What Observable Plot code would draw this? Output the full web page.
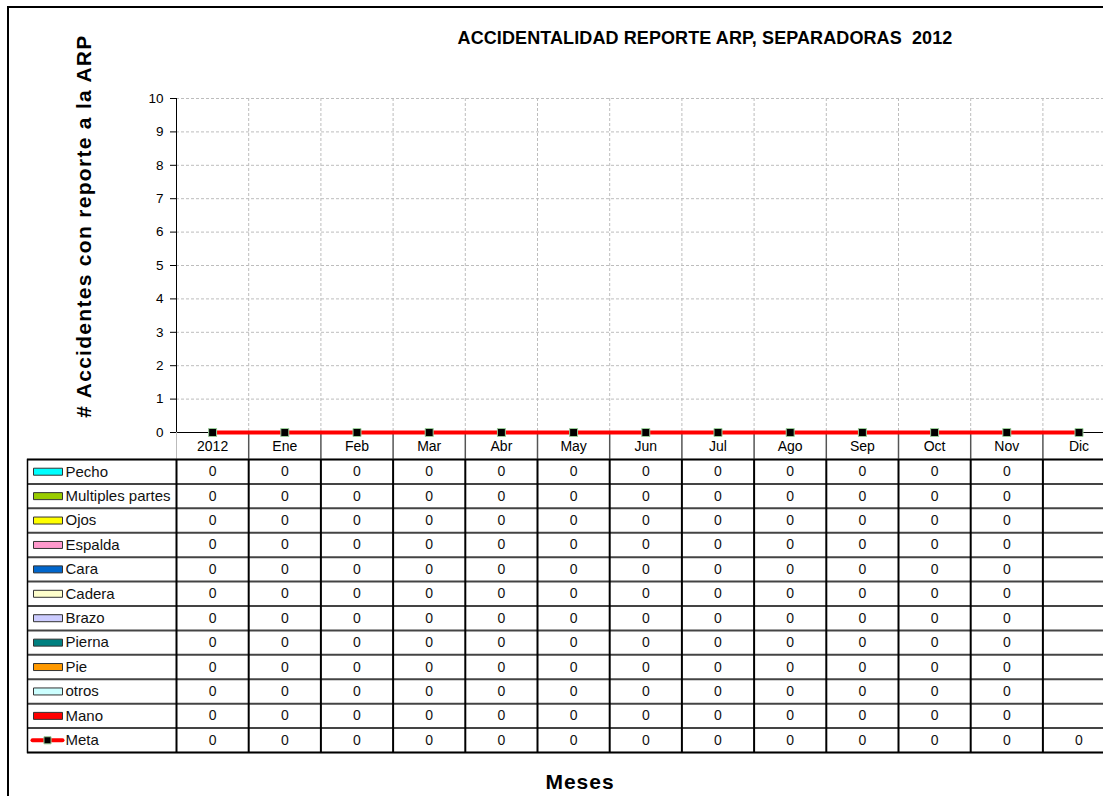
<!DOCTYPE html>
<html>
<head>
<meta charset="utf-8">
<script src="https://cdn.jsdelivr.net/npm/d3@7"></script>
<script src="https://cdn.jsdelivr.net/npm/@observablehq/plot@0.6"></script>
<style>
  html, body { margin: 0; padding: 0; background: #fff; overflow: hidden; }
  #wrap { position: relative; width: 1103px; height: 796px; overflow: hidden; background: #fff;
          font-family: Arial, "Liberation Sans", sans-serif; }
  #wrap svg { position: absolute; left: 0; top: 0; max-width: none !important; background: transparent !important; }
  #wrap svg g[aria-label="y-axis tick label"] { font-size: 13.5px; fill: #000; }
  #wrap svg g[aria-label="x-axis tick label"] { font-size: 14px; fill: #000; }
  .frame { position: absolute; left: 7px; top: 6px; width: 1200px; height: 900px;
           border-top: 2px solid #000; border-left: 2px solid #000; }
  .title { position: absolute; left: 705px; top: 38px; transform: translate(-50%, -50%);
           font-weight: bold; font-size: 18px; letter-spacing: 0.1px; white-space: pre; color: #000; }
  .ytitle { position: absolute; left: 84px; top: 226px; transform: translate(-50%, -50%) rotate(-90deg);
            font-weight: bold; font-size: 21px; letter-spacing: 1.3px; white-space: nowrap; color: #000; }
  .xtitle { position: absolute; left: 580px; top: 782px; transform: translate(-50%, -50%);
            font-weight: bold; font-size: 21px; letter-spacing: 1px; white-space: nowrap; color: #000; }
</style>
</head>
<body>
<div id="wrap">
  <div class="frame"></div>
</div>
<script>
// ---- data ----
const categories = ["2012","Ene","Feb","Mar","Abr","May","Jun","Jul","Ago","Sep","Oct","Nov","Dic"];
const partes = ["Pecho","Multiples partes","Ojos","Espalda","Cara","Cadera","Brazo","Pierna","Pie","otros","Mano"];
const colores = ["#00FFFF","#99CC00","#FFFF00","#FF99CC","#0066CC","#FFFFCC","#CCCCFF","#008080","#FF9900","#CCFFFF","#FF0000"];
const pecho     = [0,0,0,0,0,0,0,0,0,0,0,0,null];
const multiples = [0,0,0,0,0,0,0,0,0,0,0,0,null];
const ojos      = [0,0,0,0,0,0,0,0,0,0,0,0,null];
const espalda   = [0,0,0,0,0,0,0,0,0,0,0,0,null];
const cara      = [0,0,0,0,0,0,0,0,0,0,0,0,null];
const cadera    = [0,0,0,0,0,0,0,0,0,0,0,0,null];
const brazo     = [0,0,0,0,0,0,0,0,0,0,0,0,null];
const pierna    = [0,0,0,0,0,0,0,0,0,0,0,0,null];
const pie       = [0,0,0,0,0,0,0,0,0,0,0,0,null];
const otros     = [0,0,0,0,0,0,0,0,0,0,0,0,null];
const mano      = [0,0,0,0,0,0,0,0,0,0,0,0,null];
const meta      = [0,0,0,0,0,0,0,0,0,0,0,0,0];
const yTicks = [0,1,2,3,4,5,6,7,8,9,10];
const titulo = "ACCIDENTALIDAD REPORTE ARP, SEPARADORAS  2012";
const tituloY = "# Accidentes con reporte a la ARP";
const tituloX = "Meses";

// ---- derived tables ----
const seriesValues = [pecho, multiples, ojos, espalda, cara, cadera, brazo, pierna, pie, otros, mano];
const rowNames = [...partes, "Meta"];
const rowValues = [...seriesValues, meta];
const nCat = categories.length;
const colW = 72.2;
const x0 = 176;
const xRange = [x0, x0 + colW * nCat];
const font = "Arial, 'Liberation Sans', sans-serif";

const barData = [];
seriesValues.forEach((vals, s) => vals.forEach((v, i) => { if (v != null) barData.push({i, v, s}); }));
const metaData = meta.map((v, i) => ({i, v}));
const cells = [];
rowValues.forEach((vals, r) => vals.forEach((v, c) => { if (v != null) cells.push({r, c, v}); }));
const catIdx = categories.map((d, i) => i);
const boundaries = d3.range(0, nCat + 1);
const rowBoundaries = d3.range(0, rowNames.length + 1);

// ---- chart ----
const chart = Plot.plot({
  width: 1103, height: 459,
  marginLeft: x0, marginRight: 0, marginTop: 98, marginBottom: 27,
  x: {domain: [0, nCat], range: xRange, label: null},
  y: {domain: [0, 10], label: null},
  style: {fontFamily: font, fontSize: "13px", color: "#000"},
  marks: [
    Plot.ruleY(yTicks.filter(d => d > 0), {stroke: "#bdbdbd", strokeDasharray: "3,2"}),
    Plot.ruleX(boundaries.filter(d => d > 0 && d < nCat), {stroke: "#bdbdbd", strokeDasharray: "3,2"}),
    Plot.rectY(barData, Plot.stackY({x1: d => d.i, x2: d => d.i + 1, y: "v", fill: d => colores[d.s], insetLeft: 16, insetRight: 16})),
    Plot.ruleX([0], {stroke: "#000"}),
    Plot.ruleY([0], {stroke: "#000"}),
    Plot.axisY({ticks: yTicks, tickSize: 6, tickPadding: 7, label: null, tickFormat: d => String(d)}),
    Plot.axisX({ticks: boundaries.slice(1), tickSize: 27, tickFormat: () => "", stroke: "#555", strokeWidth: 1.5, label: null}),
    Plot.axisX({ticks: [0], tickSize: 27, tickFormat: () => "", stroke: "#bbb", label: null}),
    Plot.axisX({ticks: catIdx.map(i => i + 0.5), tickSize: 0, tickPadding: 9,
                tickFormat: d => categories[Math.floor(d)], label: null}),
    Plot.line(metaData, {x: d => d.i + 0.5, y: "v", stroke: "#FF0000", strokeWidth: 4}),
    Plot.dot(metaData, {x: d => d.i + 0.5, y: "v", symbol: "square", r: 4.5, fill: "#000", stroke: "#9c9", strokeWidth: 1})
  ]
});

// ---- data table ----
const swatch = {draw(ctx) { ctx.rect(-14.5, -3.5, 29, 7); }};
const metaSwatch = {draw(ctx) { ctx.moveTo(-15, 0); ctx.lineTo(15, 0); }};
const tableRows = rowNames.map((name, r) => ({name, r}));
const table = Plot.plot({
  width: 1140, height: 796,
  marginLeft: 27, marginRight: 0, marginTop: 459, marginBottom: 44,
  x: {domain: [0, nCat], range: xRange, label: null, axis: null},
  y: {domain: [0, rowNames.length], range: [459, 752], label: null, axis: null},
  style: {fontFamily: font, fontSize: "13px", color: "#000"},
  marks: [
    Plot.ruleY(rowBoundaries, {stroke: "#444", strokeWidth: 2}),
    Plot.ruleX(boundaries, {stroke: "#000", strokeWidth: 2}),
    Plot.frame({stroke: "#000", strokeWidth: 1.5}),
    Plot.text(cells, {x: d => d.c + 0.5, y: d => d.r + 0.5, text: d => String(d.v), fontSize: 14, fill: "#111"}),
    Plot.dot(tableRows.filter(d => d.r < partes.length), {frameAnchor: "left", y: d => d.r + 0.5, dx: 20.5,
             symbol: swatch, fill: d => colores[d.r], stroke: "#333", strokeWidth: 1}),
    Plot.dot(tableRows.filter(d => d.r >= partes.length), {frameAnchor: "left", y: d => d.r + 0.5, dx: 20,
             symbol: metaSwatch, fill: "none", stroke: "#FF0000", strokeWidth: 4, strokeLinecap: "round"}),
    Plot.dot(tableRows.filter(d => d.r >= partes.length), {frameAnchor: "left", y: d => d.r + 0.5, dx: 20,
             symbol: "square", r: 4, fill: "#000", stroke: "#9c9", strokeWidth: 1}),
    Plot.text(tableRows, {frameAnchor: "left", y: d => d.r + 0.5, dx: 38, text: "name", textAnchor: "start", fontSize: 15, fill: "#111"})
  ]
});

const wrap = document.getElementById("wrap");
wrap.appendChild(chart);
wrap.appendChild(table);
function addText(cls, txt) { const d = document.createElement("div"); d.className = cls; d.textContent = txt; wrap.appendChild(d); }
addText("title", titulo);
addText("ytitle", tituloY);
addText("xtitle", tituloX);
</script>
</body>
</html>
